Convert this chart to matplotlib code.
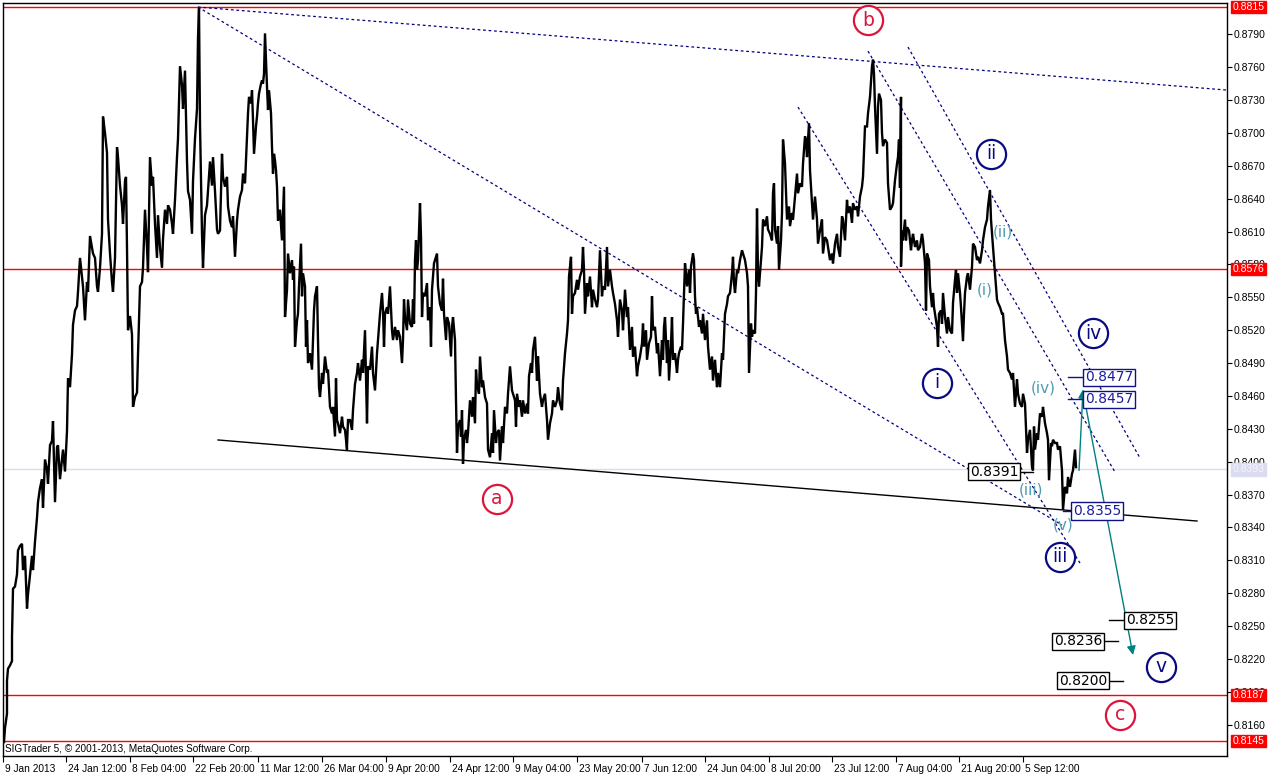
import matplotlib
matplotlib.use("Agg")
import matplotlib.pyplot as plt
from matplotlib.transforms import ScaledTranslation

# ---------------- data (bar number, price) ----------------
seg_jan_feb = [(1,0.8144),(2,0.8157),(4,0.8170),(4,0.8200),(5,0.8211),(7,0.8214),(9,0.8218),(9,0.8240),(10,0.8284),(12,0.8286),(14,0.8297),(15,0.8319),(17,0.8323),(19,0.8325),(20,0.8301),(22,0.8314),(24,0.8266),(25,0.8279),(27,0.8297),(29,0.8314),(30,0.8301),(32,0.8327),(34,0.8349),(35,0.8363),(37,0.8376),(39,0.8384),(40,0.8358),(42,0.8402),(44,0.8393),(45,0.8380),(47,0.8415),(49,0.8419),(50,0.8437),(52,0.8363),(54,0.8413),(55,0.8415),(57,0.8384),(59,0.8402),(60,0.8411),(62,0.8391),(64,0.8428),(65,0.8476),(67,0.8468),(69,0.8498),(70,0.8525),(72,0.8538),(74,0.8542),(75,0.8555),(77,0.8586),(79,0.8568),(80,0.8560),(82,0.8529),(84,0.8564),(85,0.8555),(87,0.8606),(89,0.8595),(90,0.8590),(92,0.8586),(94,0.8560),(95,0.8555),(97,0.8577),(99,0.8608),(100,0.8715),(102,0.8700),(104,0.8682),(105,0.8621),(107,0.8590),(109,0.8564),(110,0.8555),(112,0.8586),(114,0.8687),(115,0.8678),(117,0.8652),(119,0.8634),(120,0.8617),(122,0.8656),(123,0.8660),(124,0.8595),(125,0.8520),(127,0.8533),(129,0.8516),(130,0.8450),(132,0.8459),(134,0.8463),(135,0.8498),(137,0.8560),(139,0.8564),(140,0.8577),(142,0.8630),(144,0.8595),(145,0.8573),(147,0.8678),(149,0.8652),(150,0.8660),(152,0.8617),(154,0.8586),(155,0.8625),(157,0.8595),(159,0.8577),(160,0.8603),(162,0.8630),(164,0.8617),(165,0.8634),(167,0.8630),(169,0.8617),(170,0.8608),(172,0.8639),(174,0.8678),(175,0.8695),(177,0.8761),(179,0.8744),(180,0.8722),(182,0.8757),(184,0.8674),(185,0.8647),(187,0.8639),(189,0.8608),(190,0.8656),(192,0.8695),(194,0.8722),(195,0.8787),(196,0.8814),(197,0.8708),(199,0.8608),(200,0.8577),(202,0.8625),(204,0.8634),(205,0.8647),(207,0.8674),(209,0.8652),(210,0.8678),(212,0.8647),(214,0.8612),(215,0.8608)]

seg_mar_apr = [(217,0.8611),(219,0.8681),(220,0.8660),(222,0.8651),(224,0.8660),(225,0.8633),(227,0.8620),(229,0.8614),(230,0.8624),(232,0.8587),(234,0.8620),(235,0.8630),(237,0.8642),(239,0.8648),(240,0.8663),(242,0.8654),(244,0.8697),(245,0.8718),(246,0.8733),(248,0.8727),(249,0.8739),(250,0.8712),(251,0.8681),(253,0.8706),(254,0.8715),(255,0.8727),(256,0.8736),(258,0.8745),(259,0.8748),(260,0.8745),(261,0.8754),(262,0.8791),(264,0.8742),(265,0.8721),(266,0.8739),(268,0.8718),(269,0.8687),(270,0.8663),(271,0.8681),(272,0.8675),(273,0.8666),(274,0.8651),(275,0.8620),(277,0.8630),(279,0.8602),(280,0.8627),(281,0.8651),(282,0.8532),(284,0.8557),(285,0.8590),(287,0.8572),(289,0.8584),(290,0.8566),(291,0.8578),(292,0.8505),(294,0.8529),(295,0.8535),(296,0.8560),(298,0.8599),(299,0.8551),(300,0.8572),(302,0.8560),(303,0.8505),(304,0.8529),(305,0.8490),(307,0.8499),(309,0.8484),(310,0.8511),(311,0.8538),(312,0.8551),(314,0.8560),(315,0.8511),(316,0.8468),(317,0.8459),(319,0.8481),(320,0.8471),(322,0.8496),(324,0.8481),(325,0.8484),(327,0.8450),(329,0.8444),(330,0.8450),(332,0.8423),(333,0.8476),(334,0.8438),(335,0.8435),(337,0.8426),(339,0.8441),(340,0.8432),(342,0.8429),(344,0.8411),(344,0.8414),(345,0.8438),(347,0.8438),(349,0.8429),(350,0.8447),(352,0.8471),(354,0.8481),(355,0.8490),(357,0.8474),(359,0.8493),(360,0.8481),(362,0.8520),(364,0.8435),(365,0.8487),(367,0.8484),(369,0.8505),(370,0.8481),(372,0.8465),(374,0.8499),(375,0.8511),(377,0.8535),(379,0.8554),(380,0.8538),(381,0.8505),(382,0.8535),(384,0.8541),(385,0.8535),(387,0.8560),(389,0.8520),(390,0.8511),(392,0.8523),(394,0.8511),(395,0.8520),(397,0.8514),(399,0.8490),(400,0.8511),(401,0.8548),(402,0.8532),(404,0.8520),(405,0.8548),(407,0.8526),(409,0.8523),(410,0.8548),(411,0.8526),(412,0.8584),(413,0.8602),(414,0.8575),(415,0.8584),(417,0.8636),(418,0.8605),(419,0.8532),(420,0.8554),(422,0.8551),(424,0.8563),(425,0.8529),(427,0.8541),(428,0.8505),(429,0.8557),(431,0.8581),(432,0.8584),(434,0.8590),(435,0.8560)]

seg_may_jun = [(437,0.8544),(439,0.8538),(440,0.8567),(441,0.8535),(443,0.8511),(444,0.8532),(446,0.8526),(448,0.8496),(449,0.8523),(450,0.8532),(452,0.8511),(453,0.8456),(454,0.8408),(455,0.8432),(457,0.8438),(458,0.8423),(459,0.8447),(460,0.8398),(461,0.8420),(463,0.8429),(464,0.8417),(465,0.8426),(467,0.8456),(469,0.8441),(470,0.8459),(472,0.8435),(473,0.8484),(474,0.8471),(476,0.8462),(477,0.8496),(479,0.8468),(480,0.8474),(482,0.8459),(484,0.8453),(485,0.8411),(487,0.8404),(489,0.8426),(490,0.8408),(491,0.8447),(493,0.8417),(494,0.8426),(496,0.8429),(497,0.8401),(499,0.8432),(500,0.8417),(502,0.8450),(504,0.8444),(505,0.8462),(507,0.8487),(509,0.8465),(510,0.8462),(512,0.8456),(513,0.8432),(514,0.8462),(516,0.8450),(517,0.8456),(519,0.8441),(520,0.8456),(522,0.8444),(524,0.8453),(525,0.8444),(526,0.8478),(528,0.8490),(529,0.8481),(530,0.8502),(532,0.8514),(534,0.8474),(535,0.8496),(537,0.8462),(539,0.8450),(540,0.8456),(542,0.8462),(544,0.8438),(545,0.8420),(547,0.8435),(549,0.8444),(550,0.8456),(552,0.8450),(554,0.8456),(555,0.8468),(557,0.8453),(559,0.8447),(560,0.8474),(562,0.8499),(564,0.8517),(565,0.8529),(566,0.8569),(568,0.8587),(569,0.8535),(570,0.8551),(572,0.8554),(574,0.8566),(575,0.8557),(577,0.8569),(579,0.8575),(580,0.8596),(581,0.8575),(582,0.8535),(584,0.8563),(585,0.8551),(587,0.8569),(589,0.8541),(590,0.8557),(592,0.8548),(594,0.8541),(595,0.8548),(597,0.8593),(599,0.8551),(600,0.8560),(602,0.8557),(604,0.8596),(605,0.8560),(607,0.8575),(609,0.8560),(610,0.8554),(612,0.8544),(614,0.8529),(615,0.8514),(617,0.8548),(619,0.8538),(620,0.8520),(622,0.8557),(624,0.8532),(625,0.8541),(627,0.8502),(629,0.8523),(630,0.8496),(632,0.8505),(634,0.8478),(635,0.8487),(637,0.8496),(639,0.8508),(640,0.8526),(641,0.8505),(643,0.8520),(644,0.8493),(646,0.8508),(648,0.8514),(649,0.8551),(650,0.8520),(652,0.8523),(654,0.8499),(655,0.8508)]

seg_jun_jul = [(657,0.8478),(659,0.8511),(660,0.8493),(661,0.8523),(662,0.8532),(664,0.8490),(665,0.8511),(666,0.8474),(668,0.8508),(669,0.8532),(670,0.8493),(672,0.8499),(674,0.8481),(675,0.8493),(676,0.8499),(678,0.8505),(679,0.8502),(680,0.8526),(682,0.8581),(683,0.8572),(684,0.8560),(686,0.8575),(687,0.8554),(688,0.8578),(690,0.8590),(691,0.8584),(692,0.8551),(693,0.8535),(694,0.8541),(696,0.8523),(697,0.8529),(699,0.8517),(700,0.8535),(702,0.8511),(704,0.8529),(705,0.8505),(707,0.8484),(709,0.8496),(710,0.8474),(712,0.8493),(714,0.8468),(715,0.8481),(717,0.8468),(719,0.8499),(720,0.8493),(722,0.8535),(724,0.8544),(725,0.8551),(727,0.8554),(729,0.8572),(730,0.8587),(731,0.8563),(732,0.8554),(734,0.8575),(735,0.8572),(737,0.8584),(739,0.8593),(740,0.8590),(742,0.8584),(744,0.8572),(745,0.8560),(746,0.8481),(748,0.8526),(749,0.8514),(750,0.8520),(752,0.8517),(753,0.8554),(754,0.8631),(755,0.8572),(756,0.8560),(757,0.8572),(759,0.8596),(760,0.8621),(762,0.8615),(764,0.8624),(765,0.8612),(767,0.8608),(769,0.8602),(770,0.8645),(771,0.8654),(772,0.8612),(774,0.8599),(775,0.8615),(776,0.8575),(778,0.8602),(779,0.8627),(780,0.8694),(782,0.8672),(783,0.8645),(784,0.8621),(786,0.8633),(787,0.8615),(789,0.8627),(790,0.8621),(792,0.8642),(794,0.8663),(795,0.8645),(797,0.8654),(799,0.8651),(800,0.8672),(802,0.8697),(803,0.8694),(804,0.8678),(806,0.8709),(807,0.8666),(809,0.8636),(810,0.8621),(812,0.8642),(814,0.8621),(815,0.8599),(817,0.8611),(819,0.8621),(820,0.8590),(822,0.8605),(824,0.8602),(825,0.8596),(827,0.8584),(829,0.8590),(830,0.8581),(832,0.8599),(834,0.8608),(835,0.8596),(837,0.8587),(839,0.8624),(840,0.8621),(842,0.8602),(844,0.8639),(845,0.8627),(847,0.8633),(849,0.8618),(850,0.8636),(852,0.8630),(854,0.8633),(855,0.8624),(857,0.8642),(859,0.8651),(860,0.8660),(862,0.8706),(864,0.8706),(865,0.8718),(867,0.8733),(869,0.8761),(870,0.8767),(871,0.8754),(872,0.8724),(874,0.8681),(875,0.8724),(876,0.8736),(878,0.8730),(879,0.8700),(880,0.8688),(882,0.8694),(884,0.8691),(885,0.8654),(887,0.8630)]

seg_aug_sep = [(889,0.8633),(890,0.8636),(892,0.8657),(894,0.8672),(895,0.8678),(896,0.8694),(897,0.8650),(898,0.8733),(898,0.8578),(899,0.8611),(900,0.8602),(902,0.8621),(903,0.8602),(904,0.8614),(906,0.8611),(908,0.8593),(909,0.8602),(910,0.8608),(912,0.8596),(914,0.8602),(915,0.8593),(917,0.8596),(919,0.8608),(920,0.8602),(922,0.8581),(923,0.8538),(924,0.8590),(926,0.8584),(927,0.8560),(929,0.8541),(930,0.8554),(931,0.8541),(932,0.8535),(934,0.8523),(935,0.8505),(936,0.8535),(938,0.8538),(939,0.8526),(940,0.8554),(942,0.8532),(944,0.8517),(945,0.8532),(947,0.8520),(949,0.8517),(950,0.8545),(952,0.8566),(953,0.8575),(954,0.8554),(955,0.8572),(957,0.8554),(958,0.8541),(960,0.8510),(961,0.8535),(962,0.8554),(964,0.8569),(965,0.8572),(967,0.8557),(969,0.8578),(970,0.8599),(972,0.8596),(974,0.8584),(975,0.8587),(977,0.8581),(979,0.8593),(980,0.8602),(982,0.8614),(984,0.8621),(985,0.8633),(987,0.8648),(988,0.8621),(989,0.8608),(990,0.8596),(991,0.8584),(992,0.8572),(994,0.8548),(995,0.8545),(997,0.8541),(999,0.8535),(1000,0.8535),(1002,0.8511),(1004,0.8496),(1005,0.8484),(1007,0.8481),(1009,0.8475),(1010,0.8481),(1012,0.8450),(1014,0.8475),(1015,0.8462),(1017,0.8453),(1019,0.8450),(1020,0.8462),(1022,0.8453),(1024,0.8408),(1025,0.8420),(1027,0.8429),(1029,0.8395),(1030,0.8392),(1031,0.8432),(1032,0.8411),(1034,0.8426),(1035,0.8420),(1037,0.8444),(1039,0.8441),(1040,0.8450),(1042,0.8435),(1044,0.8426),(1045,0.8420),(1046,0.8383),(1048,0.8417),(1049,0.8414),(1050,0.8420),(1052,0.8417),(1054,0.8417),(1055,0.8411),(1057,0.8414),(1059,0.8392),(1060,0.8356),(1062,0.8377),(1064,0.8371),(1065,0.8386),(1067,0.8377),(1069,0.8389),(1070,0.8392),(1072,0.8411),(1073,0.8395)]

x_tick_bars = [0, 63, 127, 190, 255, 319, 383, 447, 510, 574, 639, 702, 766, 829, 893, 956, 1020]
x_tick_labels = ["9 Jan 2013", "24 Jan 12:00", "8 Feb 04:00", "22 Feb 20:00", "11 Mar 12:00",
                 "26 Mar 04:00", "9 Apr 20:00", "24 Apr 12:00", "9 May 04:00", "23 May 20:00",
                 "7 Jun 12:00", "24 Jun 04:00", "8 Jul 20:00", "23 Jul 12:00", "7 Aug 04:00",
                 "21 Aug 20:00", "5 Sep 12:00"]
y_ticks = [0.8160, 0.8190, 0.8220, 0.8250, 0.8280, 0.8310, 0.8340, 0.8370, 0.8400, 0.8430,
           0.8460, 0.8490, 0.8520, 0.8550, 0.8580, 0.8610, 0.8640, 0.8670, 0.8700, 0.8730,
           0.8760, 0.8790]
red_levels = [0.8815, 0.8576, 0.8187, 0.8145]
current_price = 0.8393

# trend / channel lines: (bar1, price1, bar2, price2)
dotted_lines = [(195, 0.8815, 1224, 0.87392),
                (195, 0.8815, 1059, 0.83421),
                (795, 0.87237, 1077, 0.83074),
                (865, 0.87748, 1112, 0.83905),
                (905, 0.87785, 1137, 0.84033)]
support_line = (215, 0.84198, 1194, 0.83458)

# circled wave labels: (text, bar, price, colour)
circled = [("b", 865, 0.8803, "#dc143c"), ("a", 494, 0.8366, "#dc143c"), ("c", 1117, 0.8169, "#dc143c"),
           ("i", 934, 0.8472, "#0a0a80"), ("ii", 988, 0.8681, "#0a0a80"), ("iii", 1057, 0.8313, "#0a0a80"),
           ("iv", 1090, 0.8517, "#0a0a80"), ("v", 1158, 0.8213, "#0a0a80")]
minor = [("(i)", 982, 0.8557), ("(ii)", 1000, 0.8610), ("(iii)", 1028, 0.8374),
         ("(iv)", 1040, 0.8467), ("(v)", 1060, 0.8342)]

# price boxes: (value, box centre bar, leader start bar, leader end bar, style)
boxes = [(0.8391, 991, 1015, 1030, "k"), (0.8477, 1106, 1065, 1081, "b"), (0.8457, 1106, 1065, 1081, "b"),
         (0.8355, 1094, 1060, 1069, "b"), (0.8255, 1147, 1106, 1123, "k"), (0.8236, 1075, 1099, 1115, "k"),
         (0.8200, 1080, 1104, 1120, "k")]
# projection arrows: (bar_from, price_from, bar_to, price_to)
arrows = [(1076, 0.8392, 1080, 0.8466), (1080, 0.8464, 1130, 0.82235)]

# ---------------- drawing ----------------
W, H = 1276, 777
fig = plt.figure(figsize=(W / 100, H / 100), dpi=100)
fig.patch.set_facecolor("white")
ax = fig.add_axes([3 / W, 21 / H, 1224 / W, 753 / H])
ax.set_xlim(0, 1224)
ax.set_ylim(0.81313, 0.88187)

FONT = ["DejaVu Sans"]
AXFONT = ["Liberation Sans", "DejaVu Sans"]

for lv in red_levels:
    ax.axhline(lv, color="#ff0000", lw=1.0, zorder=1)
ax.axhline(current_price, color="#dcdcf0", lw=1.0, zorder=1)

bars, prices = [], []
for seg in (seg_jan_feb, seg_mar_apr, seg_may_jun, seg_jun_jul, seg_aug_sep):
    for b, p in seg:
        bars.append(b)
        prices.append(p)
ax.plot(bars, prices, color="black", lw=1.7, zorder=3, solid_joinstyle="miter")

for b1, p1, b2, p2 in dotted_lines:
    ax.plot([b1, b2], [p1, p2], color="#000080", lw=0.9, dashes=(2.2, 2.2), zorder=2)
ax.plot([support_line[0], support_line[2]], [support_line[1], support_line[3]], color="black", lw=1.0, zorder=2)

for b1, p1, b2, p2 in arrows:
    ax.annotate("", xy=(b2, p2), xytext=(b1, p1),
                arrowprops=dict(arrowstyle="-|>", color="#008080", lw=1.0, mutation_scale=13,
                                shrinkA=0, shrinkB=0), zorder=4)

for val, bc, l1, l2, st in boxes:
    col = "black" if st == "k" else "#10108a"
    tcol = "black" if st == "k" else "#1c1ca0"
    ax.plot([l1, l2], [val, val], color=col, lw=1.0, zorder=4)
    ax.text(bc, val, f"{val:.4f}", ha="center", va="center", fontsize=10, color=tcol,
            family=FONT, zorder=6,
            bbox=dict(boxstyle="square,pad=0.12", fc="white", ec=col, lw=1.0))

for txt, b, p, col in circled:
    ax.plot([b], [p], marker="o", ms=21, mfc="white", mec=col, mew=1.6, zorder=6)
    ax.text(b, p, txt, ha="center", va="center", fontsize=13.5, color=col, family=FONT, zorder=7)

for txt, b, p in minor:
    ax.text(b, p, txt, ha="center", va="center", fontsize=11, color="#4f9cb0", family=FONT, zorder=7)

# axes styling
for s in ax.spines.values():
    s.set_color("black")
    s.set_linewidth(1.0)
ax.yaxis.tick_right()
ax.set_yticks(y_ticks)
ax.set_yticklabels([f"{v:.4f}" for v in y_ticks])
ax.tick_params(axis="y", direction="out", length=3.5, width=0.8, pad=1, labelsize=7.5, colors="black")
ax.set_xticks(x_tick_bars)
ax.set_xticklabels(x_tick_labels)
ax.tick_params(axis="x", direction="out", length=4, width=0.8, pad=1.5, labelsize=7.3, colors="black")
for lab in ax.get_xticklabels() + ax.get_yticklabels():
    lab.set_family(AXFONT)
for lab in ax.get_xticklabels():
    lab.set_horizontalalignment("left")
    lab.set_transform(lab.get_transform() + ScaledTranslation(2 / 100, 0, fig.dpi_scale_trans))

# price tags on the right axis
ytr = ax.get_yaxis_transform()
for lv in red_levels:
    ax.annotate(f"{lv:.4f}", xy=(1.0, lv), xycoords=ytr, xytext=(4, 0), textcoords="offset points",
                ha="left", va="center", fontsize=7.5, color="white", family=AXFONT, zorder=10,
                annotation_clip=False,
                bbox=dict(boxstyle="square,pad=0.12", fc="#ff0000", ec="#ff0000"))
ax.annotate(f"{current_price:.4f}", xy=(1.0, current_price), xycoords=ytr, xytext=(4, 0),
            textcoords="offset points", ha="left", va="center", fontsize=7.5, color="#f4f4ff",
            family=AXFONT, zorder=10, annotation_clip=False,
            bbox=dict(boxstyle="square,pad=0.12", fc="#dcdcf0", ec="#dcdcf0"))

ax.text(0.0016, 0.0093, "SIGTrader 5, \u00a9 2001-2013, MetaQuotes Software Corp.", transform=ax.transAxes,
        ha="left", va="center", fontsize=7.2, color="black", family=AXFONT, zorder=8)

fig.savefig("out.png", dpi=100, facecolor="white")
